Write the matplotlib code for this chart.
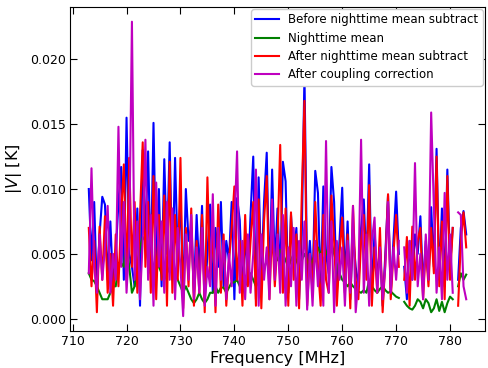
import numpy as np
import matplotlib
matplotlib.use("Agg")
import matplotlib.pyplot as plt

nan = np.nan

# frequency channels, 0.5 MHz spacing from 713 to 783 MHz
freq = np.arange(713.0, 783.01, 0.5)

# values in mK
before_sub = [
    10.0, 4.5, 9.0, 2.0, 6.5, 9.4, 8.8, 3.0, 7.5, 2.5,
    5.0, 9.0, 11.7, 3.0, 15.5, 5.0, 4.0, 2.5, 8.5, 1.0,
    13.0, 6.0, 12.9, 3.5, 15.1, 4.0, 10.0, 2.5, 12.3, 5.0,
    13.6, 3.0, 12.4, 4.5, 9.5, 1.5, 10.0, 6.0, 7.0, 2.0,
    8.0, 3.5, 8.7, 1.5, 5.0, 8.8, 2.0, 7.0, 4.0, 9.0,
    2.5, 6.0, 4.5, 9.0, 1.5, 9.3, 7.6, 2.0, 6.5, 3.0,
    8.0, 12.5, 1.5, 10.9, 3.0, 9.0, 12.8, 2.5, 11.5, 4.0,
    8.5, 3.0, 12.1, 10.6, 2.0, 8.0, 4.5, 7.0, 1.5, 6.5,
    18.8, 3.0, 6.0, 2.5, 11.4, 9.7, 2.0, 10.2, 5.0, 3.5,
    11.7, 9.0, 2.0, 6.0, 10.1, 3.0, 7.5, 1.5, 6.5, 4.0,
    2.5, 7.0, 9.2, 4.0, 11.9, 2.0, 6.7, 3.0, 5.5, 1.0,
    5.0, 9.5, 2.0, 6.0, 9.8, 5.0, nan, 4.0, 1.5, 6.0,
    3.0, 6.5, 5.0, 7.9, 2.5, 6.0, 3.0, 8.6, 4.0, 13.1,
    3.0, 8.5, 2.5, 11.5, 4.0, 7.0, nan, 3.0, 7.0, 8.3,
    6.5,
]

night_mean = [
    3.5, 3.0, 2.9, 2.5, 2.0, 1.5, 1.5, 1.5, 2.0, 2.5,
    2.5, 4.3, 4.3, 4.0, 6.3, 4.0, 2.0, 2.5, 4.0, 5.5,
    6.3, 6.0, 4.5, 3.5, 4.0, 4.8, 4.0, 3.5, 3.0, 3.5,
    4.0, 3.9, 3.5, 3.0, 2.5, 2.0, 2.5, 2.0, 1.5, 1.2,
    1.5, 2.0, 1.5, 1.2, 1.5, 2.0, 2.0, 2.5, 2.0, 2.4,
    2.4, 2.0, 2.4, 2.8, 2.8, 3.0, 2.5, 2.1, 2.5, 3.0,
    3.5, 3.0, 2.5, 2.8, 3.5, 3.8, 4.5, 5.0, 5.3, 5.0,
    4.5, 5.3, 5.0, 4.5, 4.0, 4.5, 5.0, 4.5, 4.0, 4.5,
    5.0, 4.5, 4.0, 4.5, 5.0, 5.5, 5.0, 4.5, 5.0, 5.5,
    5.9, 5.0, 4.2, 3.5, 3.0, 2.8, 2.5, 2.8, 2.5, 2.3,
    2.1, 2.0, 2.2, 2.0, 3.0, 2.5, 2.2, 2.0, 2.3, 2.5,
    2.2, 2.0, 2.1, 1.9, 1.7, 1.6, nan, 1.3, 1.0, 0.8,
    0.7, 1.0, 1.5, 1.3, 0.8, 1.5, 1.2, 0.5, 0.8, 1.5,
    0.6, 1.3, 0.5, 1.2, 1.7, 1.5, nan, 2.5, 3.5, 3.0,
    3.4,
]

after_sub = [
    7.0, 2.5, 6.0, 0.5, 7.1, 3.0, 7.9, 2.0, 5.0, 1.0,
    6.5, 2.5, 8.0, 11.9, 3.0, 12.4, 4.0, 9.0, 2.0, 8.0,
    13.6, 4.0, 9.0, 2.0, 11.0, 1.5, 8.0, 3.0, 9.5, 1.0,
    12.1, 2.0, 8.0, 3.0, 12.4, 0.8, 7.0, 2.5, 8.5, 1.0,
    6.0, 2.0, 8.0, 0.5, 10.9, 3.0, 7.0, 0.5, 8.8, 2.0,
    6.5, 1.0, 4.5, 7.0, 10.2, 3.0, 6.0, 1.0, 8.0, 2.5,
    6.0, 9.0, 1.0, 9.2, 0.8, 7.5, 11.0, 1.5, 7.0, 2.5,
    6.0, 13.4, 2.0, 8.5, 1.0, 8.2, 3.0, 6.5, 0.8, 9.5,
    16.8, 1.0, 5.0, 2.0, 9.0, 4.0, 1.0, 8.0, 3.0, 2.0,
    9.5, 6.0, 1.0, 5.0, 7.8, 2.0, 6.5, 0.8, 8.7, 3.0,
    1.5, 6.0, 8.0, 3.0, 10.3, 1.0, 5.5, 2.0, 7.0, 0.5,
    4.5, 9.6, 1.5, 5.0, 8.0, 4.0, nan, 3.0, 6.3, 1.0,
    7.1, 3.0, 6.0, 7.0, 1.5, 5.5, 2.5, 7.0, 3.5, 12.5,
    2.5, 7.5, 1.5, 11.0, 3.0, 7.0, nan, 1.0, 6.0, 8.2,
    5.5,
]

after_coupling = [
    3.5, 11.6, 4.0, 2.0, 6.5, 3.0, 5.5, 8.7, 2.0, 5.0,
    3.0, 14.8, 4.0, 9.0, 2.0, 6.0, 22.9, 3.0, 7.5, 1.5,
    6.0, 13.8, 3.0, 8.0, 1.0, 10.5, 4.0, 7.5, 2.0, 9.0,
    3.0, 8.5, 1.5, 7.0, 4.0, 0.2, 6.5, 3.0, 8.0, 1.5,
    5.5, 2.0, 7.0, 1.0, 4.0, 2.5, 9.6, 1.0, 7.0, 3.0,
    6.0, 1.5, 5.0, 2.5, 7.0, 12.9, 2.0, 6.0, 1.5, 6.5,
    2.0, 5.0, 11.5, 1.0, 6.5, 3.0, 5.5, 1.5, 9.2, 3.0,
    6.5, 2.0, 8.0, 1.0, 5.5, 2.5, 7.0, 1.0, 6.0, 3.0,
    7.5, 0.7, 5.0, 1.0, 6.0, 2.5, 5.0, 1.0, 13.7, 2.0,
    7.5, 0.5, 6.0, 3.0, 5.5, 1.0, 6.0, 2.0, 8.7, 0.5,
    3.0, 13.8, 2.0, 6.5, 1.0, 6.0, 7.8, 2.0, 5.5, 1.5,
    4.0, 9.0, 2.0, 5.5, 3.0, 6.0, nan, 5.5, 2.0, 6.0,
    3.0, 12.0, 2.5, 5.0, 1.5, 6.5, 3.0, 15.9, 8.6, 2.0,
    5.5, 1.5, 9.7, 3.0, 6.5, 2.0, nan, 8.2, 8.0, 2.5,
    1.5,
]

labels = ["Before nighttime mean subtract", "Nighttime mean",
          "After nighttime mean subtract", "After coupling correction"]
colors = ["b", "g", "r", "m"]

fig = plt.figure(figsize=(4.89, 3.68), dpi=100)
ax = fig.add_axes([0.143, 0.101, 0.849, 0.88])

for vals, lab, col in zip([before_sub, night_mean, after_sub, after_coupling], labels, colors):
    ax.plot(freq, np.array(vals) * 1e-3, color=col, lw=1.5, label=lab)

ax.set_xlabel("Frequency [MHz]", fontsize=11.5, labelpad=2)
ax.set_ylabel("$|V|$ [K]", fontsize=11.5, labelpad=4)
ax.set_yticks([0.0, 0.005, 0.010, 0.015, 0.020])
ax.set_xticks(np.arange(710, 781, 10))
ax.tick_params(direction="in", top=True, right=True, labelsize=9, length=5, pad=3)
ax.legend(loc="upper right", fontsize=8.5, handlelength=2.0, borderpad=0.35,
          labelspacing=0.45, borderaxespad=0.2, framealpha=1.0, edgecolor="0.8")

fig.savefig("out.png", dpi=100)
